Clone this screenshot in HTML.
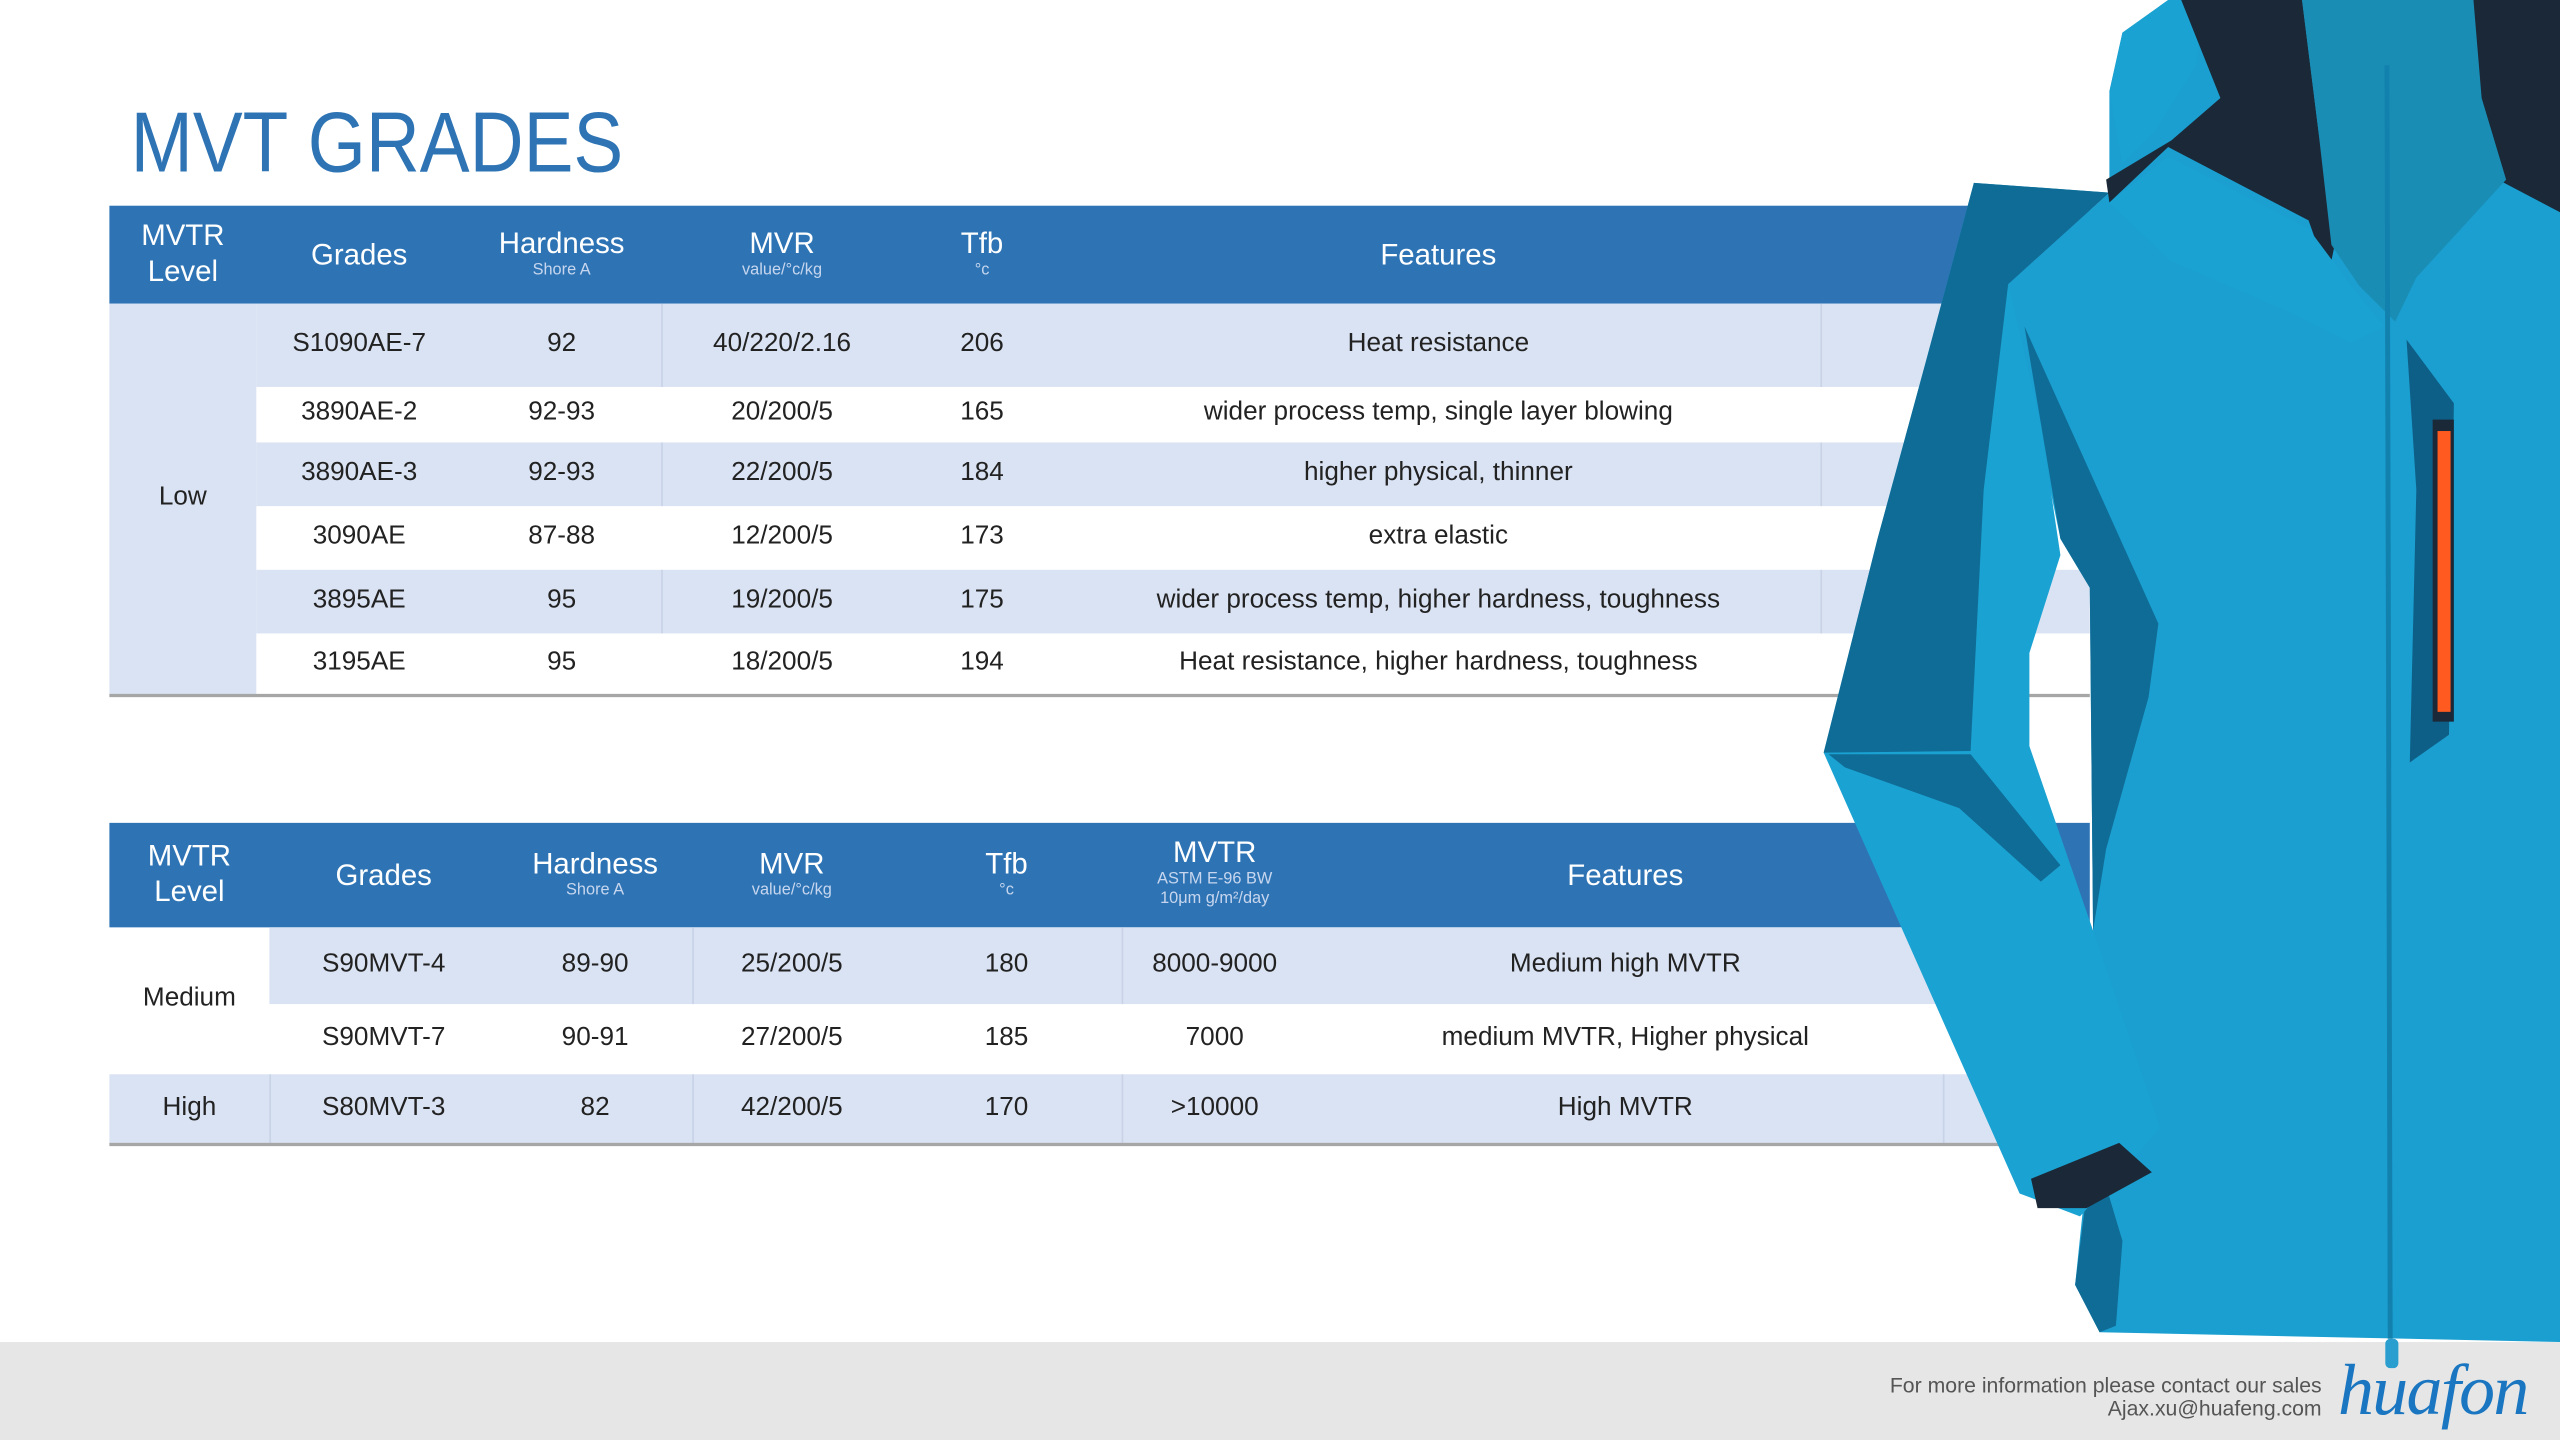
<!DOCTYPE html>
<html><head><meta charset="utf-8"><style>
html,body{margin:0;padding:0;background:#fff;}
body{width:2560px;height:1440px;overflow:hidden;position:relative;}
#s{position:absolute;left:0;top:0;width:1568px;height:882px;transform:scale(1.632653);transform-origin:0 0;font-family:"Liberation Sans",sans-serif;color:#222;}
.a{position:absolute;}
.t{position:absolute;text-align:center;}
.h{background:#2E74B5;}
.l{background:#DAE3F3;}
.ht{color:#fff;font-size:18px;line-height:22px;}
.sub{color:#c7d6ee;font-size:10px;line-height:12px;display:block;}
.c{font-size:16px;}
</style></head><body><div id="s">
<div class="a" style="left:80px;top:58px;font-size:52px;color:#2E74B5;transform:scaleX(0.88);transform-origin:0 0">MVT GRADES</div>

<!-- table 1 -->
<div class="a h" style="left:67px;top:126px;width:1213px;height:60px"></div>
<div class="a l" style="left:67px;top:186px;width:90px;height:240px"></div>
<div class="a l" style="left:157px;top:186px;width:1123px;height:51px"></div>
<div class="a l" style="left:157px;top:271px;width:1123px;height:39px"></div>
<div class="a l" style="left:157px;top:349px;width:1123px;height:39px"></div>
<div class="a" style="left:405px;top:186px;width:1px;height:51px;background:#c8d3e8"></div>
<div class="a" style="left:405px;top:271px;width:1px;height:39px;background:#c8d3e8"></div>
<div class="a" style="left:405px;top:349px;width:1px;height:39px;background:#c8d3e8"></div>
<div class="a" style="left:1115px;top:186px;width:1px;height:51px;background:#c8d3e8"></div>
<div class="a" style="left:1115px;top:271px;width:1px;height:39px;background:#c8d3e8"></div>
<div class="a" style="left:1115px;top:349px;width:1px;height:39px;background:#c8d3e8"></div>
<div class="a" style="left:67px;top:425px;width:1213px;height:2px;background:#a6a6a6"></div>

<div class="t ht" style="left:67px;top:133px;width:90px">MVTR<br>Level</div>
<div class="t ht" style="left:157px;top:145px;width:126px">Grades</div>
<div class="t ht" style="left:283px;top:138px;width:122px">Hardness<span class="sub">Shore A</span></div>
<div class="t ht" style="left:405px;top:138px;width:148px">MVR<span class="sub">value/°c/kg</span></div>
<div class="t ht" style="left:553px;top:138px;width:97px">Tfb<span class="sub">°c</span></div>
<div class="t ht" style="left:650px;top:145px;width:462px">Features</div>

<div class="t c" style="left:67px;top:296px;width:90px">Low</div>
<div class="t c" style="left:157px;top:202px;width:126px">S1090AE-7</div>
<div class="t c" style="left:283px;top:202px;width:122px">92</div>
<div class="t c" style="left:405px;top:202px;width:148px">40/220/2.16</div>
<div class="t c" style="left:553px;top:202px;width:97px">206</div>
<div class="t c" style="left:650px;top:202px;width:462px">Heat resistance</div>

<div class="t c" style="left:157px;top:244px;width:126px">3890AE-2</div>
<div class="t c" style="left:283px;top:244px;width:122px">92-93</div>
<div class="t c" style="left:405px;top:244px;width:148px">20/200/5</div>
<div class="t c" style="left:553px;top:244px;width:97px">165</div>
<div class="t c" style="left:650px;top:244px;width:462px">wider process temp, single layer blowing</div>

<div class="t c" style="left:157px;top:281px;width:126px">3890AE-3</div>
<div class="t c" style="left:283px;top:281px;width:122px">92-93</div>
<div class="t c" style="left:405px;top:281px;width:148px">22/200/5</div>
<div class="t c" style="left:553px;top:281px;width:97px">184</div>
<div class="t c" style="left:650px;top:281px;width:462px">higher physical, thinner</div>

<div class="t c" style="left:157px;top:320px;width:126px">3090AE</div>
<div class="t c" style="left:283px;top:320px;width:122px">87-88</div>
<div class="t c" style="left:405px;top:320px;width:148px">12/200/5</div>
<div class="t c" style="left:553px;top:320px;width:97px">173</div>
<div class="t c" style="left:650px;top:320px;width:462px">extra elastic</div>

<div class="t c" style="left:157px;top:359px;width:126px">3895AE</div>
<div class="t c" style="left:283px;top:359px;width:122px">95</div>
<div class="t c" style="left:405px;top:359px;width:148px">19/200/5</div>
<div class="t c" style="left:553px;top:359px;width:97px">175</div>
<div class="t c" style="left:650px;top:359px;width:462px">wider process temp, higher hardness, toughness</div>

<div class="t c" style="left:157px;top:397px;width:126px">3195AE</div>
<div class="t c" style="left:283px;top:397px;width:122px">95</div>
<div class="t c" style="left:405px;top:397px;width:148px">18/200/5</div>
<div class="t c" style="left:553px;top:397px;width:97px">194</div>
<div class="t c" style="left:650px;top:397px;width:462px">Heat resistance, higher hardness, toughness</div>

<!-- table 2 -->
<div class="a h" style="left:67px;top:504px;width:1213px;height:64px"></div>
<div class="a l" style="left:165px;top:568px;width:1115px;height:47px"></div>
<div class="a l" style="left:67px;top:658px;width:1213px;height:43px"></div>
<div class="a" style="left:424px;top:568px;width:1px;height:47px;background:#c8d3e8"></div>
<div class="a" style="left:687px;top:568px;width:1px;height:47px;background:#c8d3e8"></div>
<div class="a" style="left:165px;top:658px;width:1px;height:43px;background:#c8d3e8"></div>
<div class="a" style="left:424px;top:658px;width:1px;height:43px;background:#c8d3e8"></div>
<div class="a" style="left:687px;top:658px;width:1px;height:43px;background:#c8d3e8"></div>
<div class="a" style="left:1190px;top:658px;width:1px;height:43px;background:#c8d3e8"></div>
<div class="a" style="left:67px;top:700px;width:1213px;height:2px;background:#a6a6a6"></div>

<div class="t ht" style="left:67px;top:513px;width:98px">MVTR<br>Level</div>
<div class="t ht" style="left:165px;top:525px;width:140px">Grades</div>
<div class="t ht" style="left:305px;top:518px;width:119px">Hardness<span class="sub">Shore A</span></div>
<div class="t ht" style="left:424px;top:518px;width:122px">MVR<span class="sub">value/°c/kg</span></div>
<div class="t ht" style="left:546px;top:518px;width:141px">Tfb<span class="sub">°c</span></div>
<div class="t ht" style="left:687px;top:511px;width:114px">MVTR<span class="sub">ASTM E-96 BW<br>10μm g/m²/day</span></div>
<div class="t ht" style="left:801px;top:525px;width:389px">Features</div>

<div class="t c" style="left:67px;top:603px;width:98px">Medium</div>
<div class="t c" style="left:165px;top:582px;width:140px">S90MVT-4</div>
<div class="t c" style="left:305px;top:582px;width:119px">89-90</div>
<div class="t c" style="left:424px;top:582px;width:122px">25/200/5</div>
<div class="t c" style="left:546px;top:582px;width:141px">180</div>
<div class="t c" style="left:687px;top:582px;width:114px">8000-9000</div>
<div class="t c" style="left:801px;top:582px;width:389px">Medium high MVTR</div>

<div class="t c" style="left:165px;top:627px;width:140px">S90MVT-7</div>
<div class="t c" style="left:305px;top:627px;width:119px">90-91</div>
<div class="t c" style="left:424px;top:627px;width:122px">27/200/5</div>
<div class="t c" style="left:546px;top:627px;width:141px">185</div>
<div class="t c" style="left:687px;top:627px;width:114px">7000</div>
<div class="t c" style="left:801px;top:627px;width:389px">medium MVTR, Higher physical</div>

<div class="t c" style="left:67px;top:670px;width:98px">High</div>
<div class="t c" style="left:165px;top:670px;width:140px">S80MVT-3</div>
<div class="t c" style="left:305px;top:670px;width:119px">82</div>
<div class="t c" style="left:424px;top:670px;width:122px">42/200/5</div>
<div class="t c" style="left:546px;top:670px;width:141px">170</div>
<div class="t c" style="left:687px;top:670px;width:114px">&gt;10000</div>
<div class="t c" style="left:801px;top:670px;width:389px">High MVTR</div>

<!-- footer -->
<div class="a" style="left:0;top:822px;width:1568px;height:60px;background:#e6e6e6"></div>

<!-- jacket -->
<svg class="a" style="left:0;top:0" width="1568" height="882" viewBox="0 0 1568 882">
<!-- body base -->
<polygon fill="#1a9fd0" points="1328,0 1568,0 1568,822 1286,816 1271,787 1280,700 1282,570 1280,360 1262,330 1230,174 1292,118 1292,56 1300,20"/>
<!-- body dark side panel -->
<polygon fill="#0f6c96" points="1240,200 1322,382 1316,427 1290,520 1282,570 1280,360 1262,330"/>
<polygon fill="#0f6c96" points="1282,700 1300,760 1296,812 1286,816 1271,787"/>
<!-- sleeve silhouette -->
<polygon fill="#1aa2d2" points="1209,112 1292,118 1230,174 1250,260 1262,340 1243,400 1243,457 1282,570 1323,691 1274,745 1237,731 1117,461 1150,330 1180,220"/>
<!-- dark upper sleeve panel -->
<polygon fill="#0f6c96" points="1209,112 1292,118 1230,174 1215,300 1207,460 1117,461 1150,330 1180,220"/>
<!-- lower dark wedge -->
<polygon fill="#0f6c96" points="1120,462 1207,462 1262,530 1250,540 1200,495 1130,470"/>
<!-- cuff inner -->
<polygon fill="#1b2837" points="1244,722 1298,700 1318,718 1278,740 1248,740"/>
<!-- hood -->
<polygon fill="#1aa2d2" points="1292,56 1300,20 1328,0 1350,0 1345,40 1320,80 1300,100"/>
<!-- dark collar lining -->
<polygon fill="#1b2837" points="1336,0 1410,0 1420,80 1430,150 1426,169 1414,135 1328,90 1292,124 1290,110 1330,86 1360,60"/>
<polygon fill="#1b2837" points="1510,0 1568,0 1568,130 1530,110 1515,50"/>
<!-- collar outer light -->
<polygon fill="#1aa2d2" points="1292,124 1328,96 1414,140 1440,175 1460,200 1440,210 1400,190 1330,160"/>
<!-- fleece -->
<polygon fill="#1a8db5" points="1410,0 1515,0 1520,60 1535,110 1480,170 1467,197 1445,175 1428,150 1420,80"/>
<!-- pocket panel -->
<polygon fill="#0e5f87" points="1474,208 1503,247 1500,450 1476,467 1480,300"/>
<rect x="1490" y="257" width="13" height="185" fill="#1b2837"/>
<rect x="1493" y="264" width="8" height="172" fill="#ff5a1f"/>
<line x1="1462" y1="40" x2="1464" y2="820" stroke="#1281ad" stroke-width="3"/>
<rect x="1461" y="820" width="8" height="18" rx="3" fill="#2a9ecf"/>
</svg>

<div class="a" style="left:1100px;top:842px;width:322px;text-align:right;font-size:13px;line-height:14px;color:#555">For more information please contact our sales<br>Ajax.xu@huafeng.com</div>
<div class="a" style="left:1432px;top:826px;font-size:44px;font-style:italic;color:#1a76c0;font-family:'Liberation Serif',serif;letter-spacing:-1px">huafon</div>
</div></body></html>
